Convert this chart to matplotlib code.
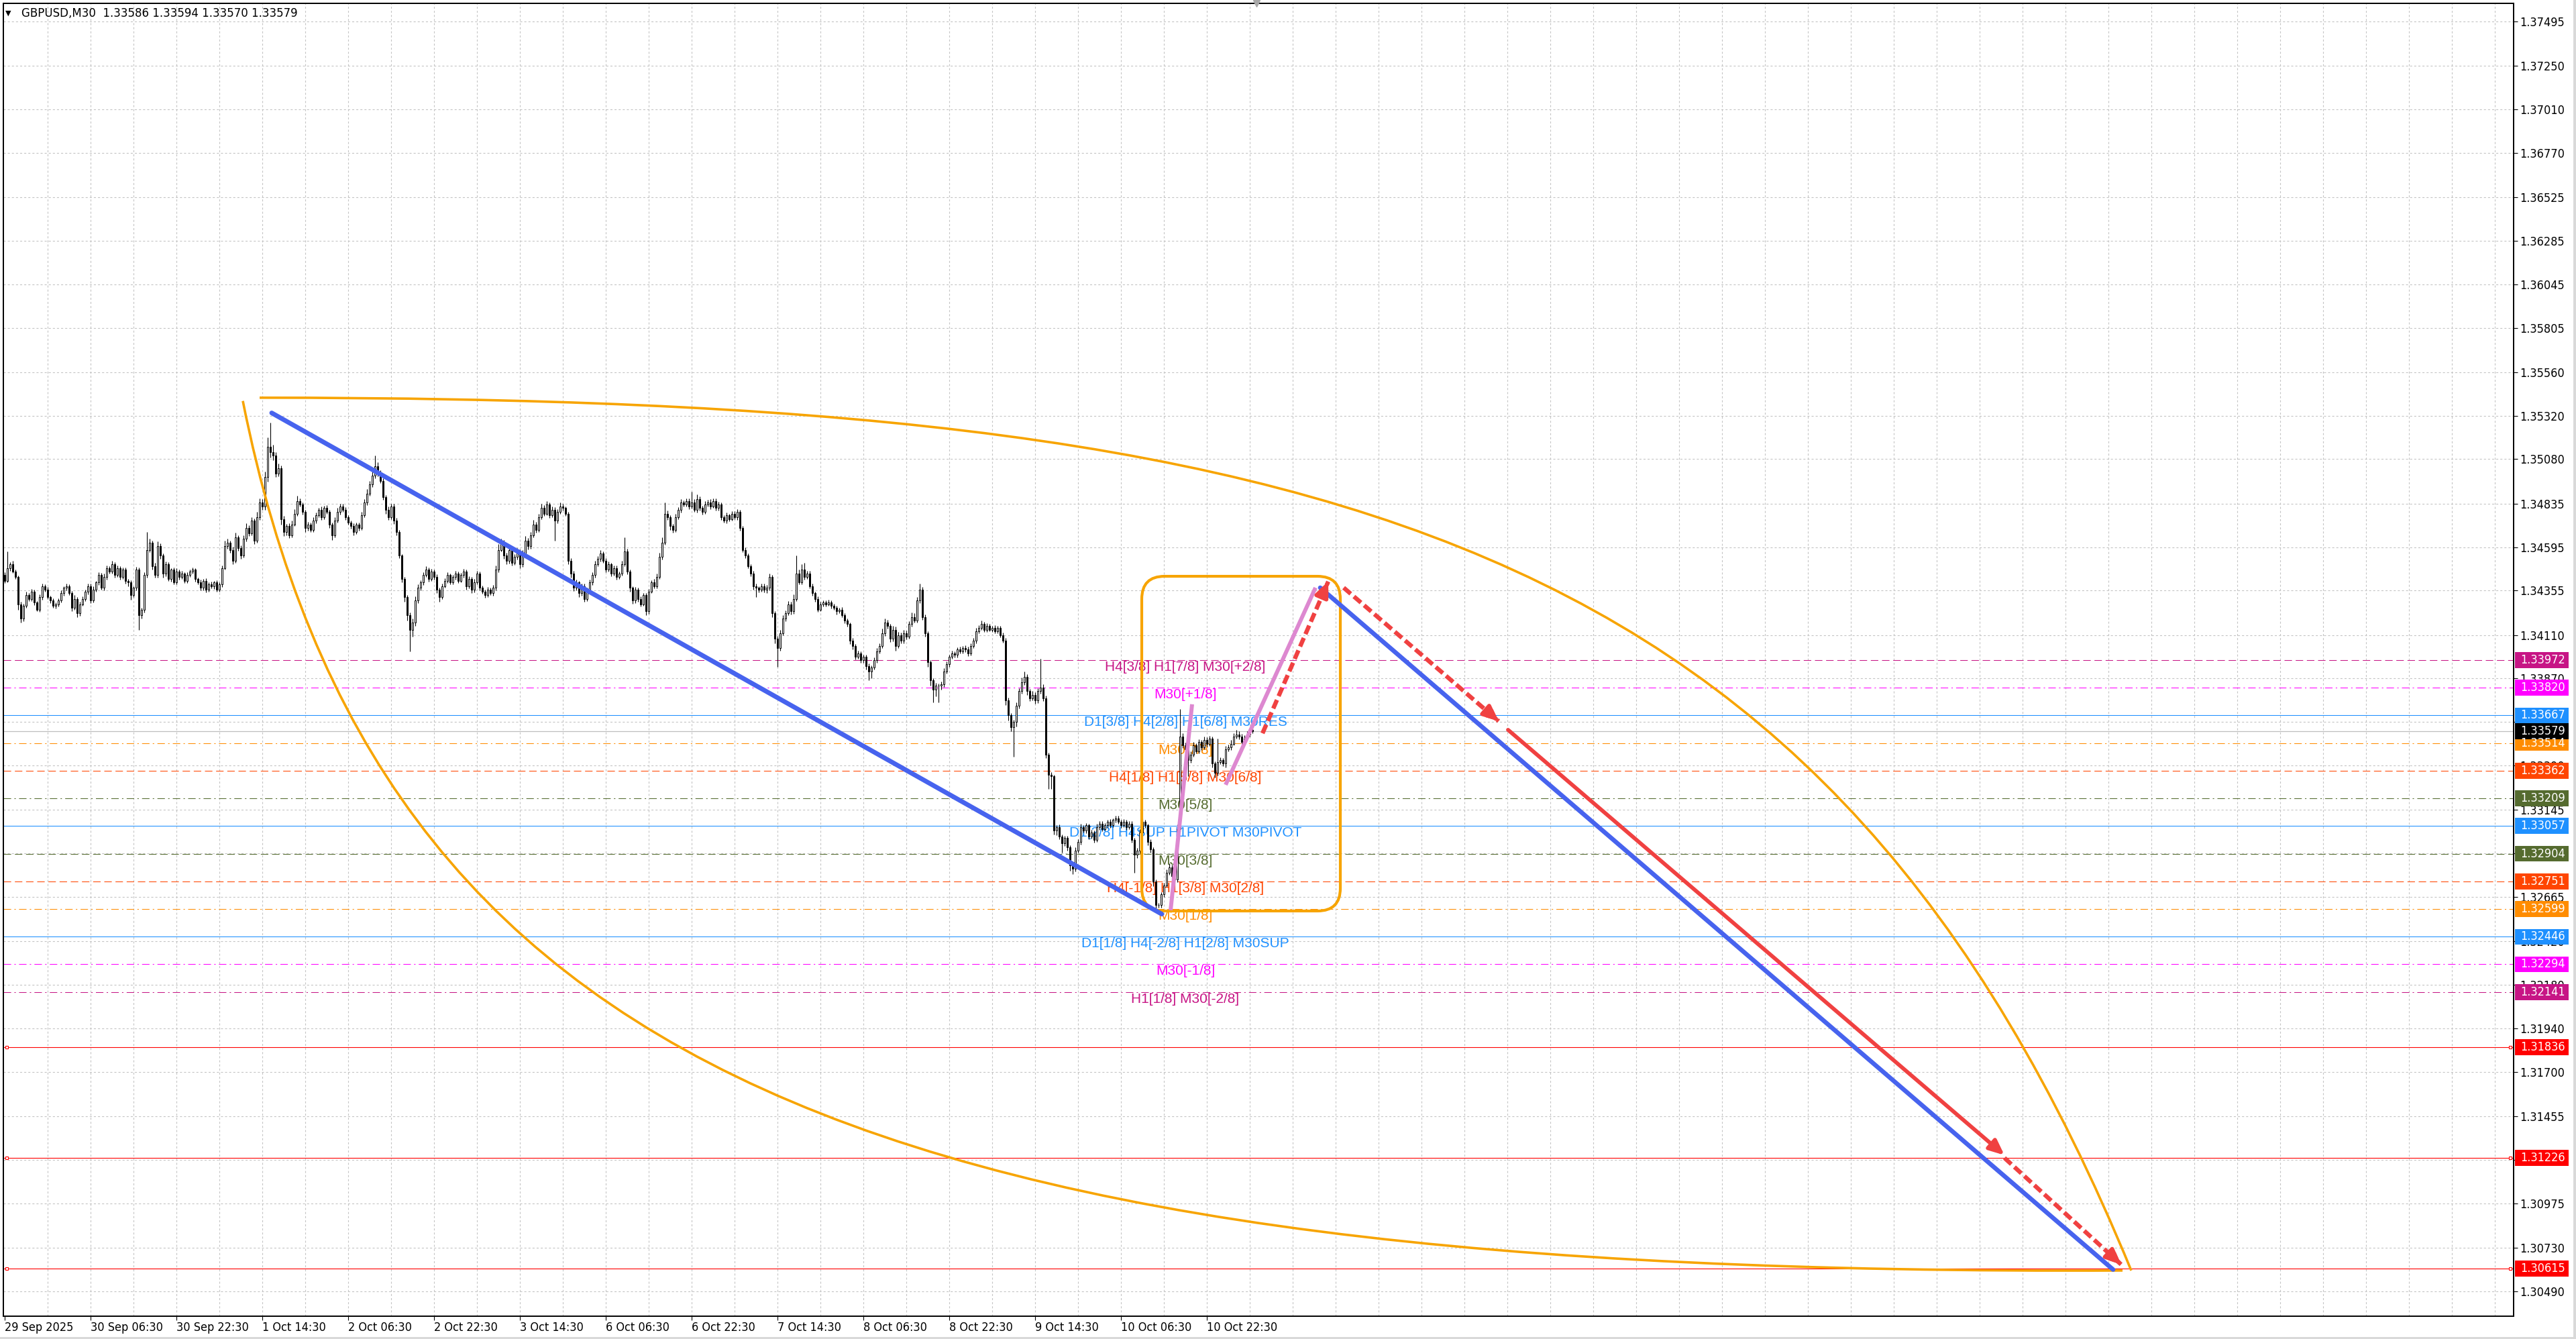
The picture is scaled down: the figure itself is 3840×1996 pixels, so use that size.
import numpy as np
import matplotlib
matplotlib.use('Agg')
import matplotlib.pyplot as plt
import matplotlib.transforms as mtransforms
from matplotlib import font_manager
from matplotlib.font_manager import FontProperties
from matplotlib.patches import FancyBboxPatch, Rectangle, PathPatch
from matplotlib.path import Path

plt.rcParams['lines.scale_dashes'] = False

# ---- candles (GBPUSD M30), close per bar, wicks in points (1e-5)
first_open = 1.3444
closes = [
    1.3441, 1.3448, 1.3450, 1.3446, 1.3443, 1.3428, 1.3420, 1.3427, 1.3433, 1.3431,   # 0
    1.3435, 1.3429, 1.3425, 1.3432, 1.3438, 1.3436, 1.3432, 1.3430, 1.3427, 1.3428,   # 10
    1.3430, 1.3434, 1.3437, 1.3438, 1.3434, 1.3426, 1.3431, 1.3423, 1.3428, 1.3431,   # 20
    1.3435, 1.3438, 1.3430, 1.3436, 1.3440, 1.3444, 1.3437, 1.3443, 1.3448, 1.3446,   # 30
    1.3450, 1.3444, 1.3448, 1.3443, 1.3447, 1.3441, 1.3440, 1.3433, 1.3437, 1.3447,   # 40
    1.3422, 1.3425, 1.3444, 1.3458, 1.3462, 1.3449, 1.3444, 1.3460, 1.3455, 1.3445,   # 50
    1.3450, 1.3442, 1.3447, 1.3440, 1.3446, 1.3443, 1.3445, 1.3441, 1.3444, 1.3446,   # 60
    1.3447, 1.3442, 1.3440, 1.3437, 1.3441, 1.3436, 1.3439, 1.3438, 1.3440, 1.3436,   # 70
    1.3439, 1.3448, 1.3460, 1.3462, 1.3458, 1.3452, 1.3465, 1.3459, 1.3455, 1.3464,   # 80
    1.3470, 1.3467, 1.3474, 1.3463, 1.3476, 1.3484, 1.3482, 1.3498, 1.3515, 1.3512,   # 90
    1.3510, 1.3500, 1.3503, 1.3475, 1.3468, 1.3471, 1.3466, 1.3472, 1.3478, 1.3485,   # 100
    1.3483, 1.3479, 1.3470, 1.3472, 1.3469, 1.3474, 1.3477, 1.3480, 1.3476, 1.3481,   # 110
    1.3479, 1.3472, 1.3466, 1.3474, 1.3479, 1.3482, 1.3480, 1.3476, 1.3473, 1.3471,   # 120
    1.3468, 1.3472, 1.3470, 1.3477, 1.3484, 1.3489, 1.3494, 1.3499, 1.3504, 1.3500,   # 130
    1.3496, 1.3487, 1.3480, 1.3476, 1.3482, 1.3474, 1.3468, 1.3455, 1.3442, 1.3432,   # 140
    1.3422, 1.3414, 1.3418, 1.3430, 1.3437, 1.3440, 1.3444, 1.3447, 1.3442, 1.3446,   # 150
    1.3443, 1.3436, 1.3432, 1.3438, 1.3441, 1.3444, 1.3440, 1.3443, 1.3445, 1.3441,   # 160
    1.3444, 1.3446, 1.3438, 1.3442, 1.3436, 1.3440, 1.3445, 1.3437, 1.3435, 1.3433,   # 170
    1.3436, 1.3434, 1.3437, 1.3447, 1.3458, 1.3462, 1.3455, 1.3452, 1.3458, 1.3451,   # 180
    1.3454, 1.3457, 1.3450, 1.3456, 1.3463, 1.3460, 1.3466, 1.3472, 1.3469, 1.3476,   # 190
    1.3481, 1.3478, 1.3483, 1.3477, 1.3480, 1.3474, 1.3479, 1.3482, 1.3481, 1.3478,   # 200
    1.3452, 1.3445, 1.3437, 1.3440, 1.3434, 1.3438, 1.3431, 1.3436, 1.3440, 1.3444,   # 210
    1.3450, 1.3453, 1.3456, 1.3452, 1.3447, 1.3450, 1.3445, 1.3448, 1.3443, 1.3445,   # 220
    1.3450, 1.3457, 1.3446, 1.3437, 1.3430, 1.3436, 1.3431, 1.3428, 1.3433, 1.3424,   # 230
    1.3435, 1.3440, 1.3438, 1.3443, 1.3454, 1.3462, 1.3478, 1.3476, 1.3471, 1.3469,   # 240
    1.3476, 1.3480, 1.3484, 1.3483, 1.3485, 1.3482, 1.3484, 1.3480, 1.3486, 1.3481,   # 250
    1.3479, 1.3483, 1.3484, 1.3482, 1.3485, 1.3481, 1.3483, 1.3476, 1.3474, 1.3477,   # 260
    1.3475, 1.3478, 1.3476, 1.3479, 1.3470, 1.3458, 1.3455, 1.3449, 1.3445, 1.3438,   # 270
    1.3437, 1.3436, 1.3438, 1.3436, 1.3437, 1.3443, 1.3423, 1.3409, 1.3404, 1.3412,   # 280
    1.3420, 1.3423, 1.3428, 1.3424, 1.3431, 1.3445, 1.3440, 1.3447, 1.3443, 1.3445,   # 290
    1.3438, 1.3434, 1.3431, 1.3425, 1.3428, 1.3429, 1.3428, 1.3429, 1.3427, 1.3426,   # 300
    1.3424, 1.3425, 1.3422, 1.3419, 1.3417, 1.3408, 1.3405, 1.3399, 1.3401, 1.3397,   # 310
    1.3399, 1.3394, 1.3391, 1.3393, 1.3397, 1.3402, 1.3405, 1.3412, 1.3418, 1.3416,   # 320
    1.3409, 1.3414, 1.3405, 1.3411, 1.3408, 1.3412, 1.3410, 1.3417, 1.3421, 1.3419,   # 330
    1.3430, 1.3436, 1.3421, 1.3412, 1.3396, 1.3386, 1.3381, 1.3383, 1.3383, 1.3384,   # 340
    1.3391, 1.3395, 1.3399, 1.3401, 1.3400, 1.3403, 1.3402, 1.3404, 1.3403, 1.3401,   # 350
    1.3405, 1.3408, 1.3413, 1.3415, 1.3417, 1.3414, 1.3416, 1.3414, 1.3415, 1.3413,   # 360
    1.3415, 1.3411, 1.3408, 1.3375, 1.3367, 1.3360, 1.3363, 1.3372, 1.3380, 1.3385,   # 370
    1.3388, 1.3380, 1.3376, 1.3378, 1.3375, 1.3380, 1.3382, 1.3376, 1.3345, 1.3334,   # 380
    1.3333, 1.3303, 1.3305, 1.3300, 1.3296, 1.3299, 1.3294, 1.3284, 1.3282, 1.3292,   # 390
    1.3297, 1.3305, 1.3303, 1.3306, 1.3300, 1.3302, 1.3298, 1.3305, 1.3307, 1.3304,   # 400
    1.3306, 1.3308, 1.3306, 1.3309, 1.3310, 1.3308, 1.3306, 1.3308, 1.3305, 1.3307,   # 410
    1.3298, 1.3290, 1.3292, 1.3302, 1.3308, 1.3306, 1.3297, 1.3293, 1.3275, 1.3262,   # 420
    1.3262, 1.3268, 1.3273, 1.3280, 1.3283, 1.3278, 1.3276, 1.3304, 1.3355, 1.3350,   # 430
    1.3348, 1.3342, 1.3345, 1.3350, 1.3347, 1.3352, 1.3349, 1.3353, 1.3351, 1.3354,   # 440
    1.3340, 1.3335, 1.3341, 1.3342, 1.3340, 1.3348, 1.3349, 1.3351, 1.3355, 1.3356,   # 450
    1.3355, 1.3352, 1.3354, 1.3356, 1.33586, 1.33579,                                 # 460
]
wick_up = [
    15, 90, 12, 20, 10, 8, 15, 12, 18, 10,
    14, 10, 8, 16, 12, 10, 15, 8, 12, 10,
    12, 18, 10, 14, 8, 12, 20, 10, 15, 12,
    10, 14, 12, 18, 10, 15, 12, 20, 14, 10,
    18, 12, 15, 10, 14, 12, 8, 12, 10, 16,
    12, 10, 15, 100, 20, 12, 18, 25, 14, 10,
    15, 12, 10, 14, 18, 10, 12, 8, 15, 10,
    12, 10, 8, 14, 10, 12, 10, 15, 8, 12,
    10, 15, 30, 20, 12, 18, 25, 10, 15, 20,
    25, 15, 20, 12, 30, 25, 20, 30, 50, 130,
    40, 20, 25, 15, 18, 12, 15, 20, 25, 30,
    15, 12, 10, 14, 12, 18, 15, 12, 20, 14,
    15, 12, 10, 18, 20, 15, 12, 14, 10, 12,
    15, 10, 12, 20, 18, 25, 20, 30, 60, 25,
    20, 15, 12, 18, 14, 12, 15, 10, 8, 12,
    10, 15, 20, 25, 18, 12, 15, 20, 12, 14,
    12, 15, 10, 14, 12, 15, 10, 12, 14, 10,
    12, 15, 10, 14, 12, 18, 15, 10, 12, 10,
    14, 12, 15, 25, 30, 20, 15, 12, 18, 14,
    15, 20, 12, 18, 25, 15, 20, 25, 15, 20,
    25, 15, 20, 12, 18, 15, 14, 20, 12, 10,
    10, 15, 12, 14, 10, 12, 15, 10, 14, 15,
    20, 15, 18, 12, 15, 14, 10, 12, 15, 10,
    20, 80, 15, 12, 10, 14, 12, 15, 10, 12,
    15, 12, 18, 20, 25, 30, 60, 15, 12, 14,
    20, 15, 18, 12, 15, 14, 60, 20, 25, 15,
    12, 18, 15, 20, 15, 12, 14, 10, 12, 15,
    10, 14, 12, 15, 10, 12, 14, 10, 12, 15,
    12, 10, 14, 12, 15, 20, 10, 12, 15, 18,
    20, 15, 18, 14, 25, 100, 20, 30, 40, 15,
    12, 14, 10, 12, 15, 10, 12, 14, 10, 12,
    10, 12, 14, 10, 12, 10, 14, 12, 15, 10,
    12, 10, 14, 12, 18, 20, 15, 25, 20, 15,
    12, 20, 15, 18, 12, 20, 15, 18, 25, 20,
    20, 35, 15, 12, 10, 12, 10, 14, 12, 15,
    18, 15, 12, 14, 10, 12, 14, 10, 12, 15,
    14, 12, 18, 15, 20, 12, 14, 10, 12, 14,
    12, 10, 14, 12, 15, 10, 12, 20, 18, 25,
    30, 15, 12, 20, 14, 18, 160, 20, 15, 12,
    14, 10, 12, 15, 10, 14, 12, 10, 12, 18,
    15, 20, 12, 14, 10, 15, 12, 18, 14, 12,
    14, 12, 15, 10, 14, 12, 10, 14, 12, 15,
    12, 10, 14, 20, 18, 12, 10, 12, 10, 12,
    14, 12, 15, 18, 20, 12, 14, 25, 150, 20,
    15, 12, 18, 20, 14, 15, 12, 20, 15, 12,
    10, 12, 130, 14, 12, 18, 15, 20, 18, 25,
    20, 15, 18, 20, 12, 8,
]
wick_dn = [
    12, 10, 15, 8, 12, 30, 20, 15, 10, 14,
    12, 15, 10, 12, 14, 10, 12, 15, 10, 12,
    14, 10, 12, 15, 10, 18, 12, 20, 15, 10,
    12, 14, 15, 10, 12, 14, 10, 12, 15, 10,
    12, 15, 10, 14, 12, 15, 20, 25, 12, 15,
    80, 20, 15, 12, 14, 18, 12, 15, 20, 25,
    15, 12, 14, 10, 12, 15, 10, 14, 12, 10,
    12, 14, 10, 15, 12, 14, 10, 12, 15, 10,
    12, 15, 10, 14, 18, 20, 12, 15, 20, 14,
    12, 15, 10, 20, 12, 15, 18, 20, 25, 30,
    25, 20, 15, 30, 25, 20, 15, 12, 10, 14,
    12, 15, 20, 14, 12, 10, 15, 12, 14, 10,
    12, 20, 25, 12, 10, 14, 12, 15, 10, 14,
    20, 12, 15, 10, 12, 14, 10, 12, 15, 14,
    12, 15, 20, 14, 12, 18, 20, 15, 20, 25,
    30, 120, 40, 20, 15, 12, 14, 10, 15, 12,
    14, 20, 25, 12, 10, 14, 12, 10, 14, 12,
    10, 14, 18, 12, 20, 14, 10, 15, 12, 14,
    12, 10, 14, 12, 15, 10, 18, 20, 14, 15,
    12, 14, 20, 15, 12, 18, 14, 12, 15, 10,
    12, 14, 10, 15, 12, 110, 12, 10, 14, 12,
    20, 25, 18, 15, 20, 14, 15, 12, 10, 14,
    12, 10, 14, 12, 15, 10, 14, 12, 15, 10,
    12, 10, 15, 20, 18, 14, 15, 12, 10, 20,
    12, 10, 14, 12, 10, 15, 12, 14, 20, 15,
    12, 10, 14, 12, 10, 14, 12, 10, 14, 12,
    15, 10, 12, 14, 10, 15, 12, 14, 10, 12,
    14, 10, 12, 15, 14, 12, 15, 10, 14, 20,
    50, 15, 12, 14, 20, 12, 20, 25, 105, 15,
    12, 14, 10, 15, 12, 14, 12, 10, 15, 12,
    14, 12, 15, 12, 10, 14, 12, 10, 14, 12,
    15, 10, 12, 14, 15, 20, 18, 15, 12, 14,
    15, 20, 50, 40, 12, 14, 10, 12, 15, 14,
    20, 15, 25, 12, 15, 14, 12, 10, 14, 12,
    12, 14, 15, 20, 25, 30, 70, 40, 90, 20,
    15, 12, 14, 10, 12, 14, 10, 12, 14, 15,
    12, 10, 14, 12, 10, 14, 12, 10, 14, 12,
    10, 14, 12, 25, 30, 20, 160, 25, 15, 12,
    14, 20, 15, 12, 18, 14, 12, 15, 20, 80,
    70, 20, 25, 15, 50, 12, 20, 30, 30, 14,
    12, 15, 10, 14, 18, 12, 15, 10, 14, 12,
    10, 14, 12, 10, 14, 12, 15, 10, 14, 12,
    15, 100, 20, 14, 12, 15, 18, 20, 25, 20,
    15, 12, 14, 10, 12, 15, 14, 12, 15, 14,
    20, 90, 15, 12, 14, 12, 15, 10, 14, 12,
    20, 25, 15, 12, 14, 20, 12, 14, 10, 12,
    14, 12, 10, 14, 12, 9,
]

# ---- axes
price_ticks = [1.37495, 1.37250, 1.37010, 1.36770, 1.36525, 1.36285, 1.36045, 1.35805,
               1.35560, 1.35320, 1.35080, 1.34835, 1.34595, 1.34355, 1.34110, 1.33870,
               1.33630, 1.33390, 1.33145, 1.32905, 1.32665, 1.32420, 1.32180, 1.31940,
               1.31700, 1.31455, 1.31215, 1.30975, 1.30730, 1.30490]
date_labels = ['29 Sep 2025', '30 Sep 06:30', '30 Sep 22:30', '1 Oct 14:30', '2 Oct 06:30',
               '2 Oct 22:30', '3 Oct 14:30', '6 Oct 06:30', '6 Oct 22:30', '7 Oct 14:30',
               '8 Oct 06:30', '8 Oct 22:30', '9 Oct 14:30', '10 Oct 06:30', '10 Oct 22:30']
bars_per_label = 32
bars_per_grid = 16

# ---- murrey levels
level_prices = [1.33972, 1.33820, 1.33667, 1.33514, 1.33362, 1.33209, 1.33057,
                1.32904, 1.32751, 1.32599, 1.32446, 1.32294, 1.32141]
level_colors = ['#C71585', '#FF00FF', '#1E90FF', '#FF8C00', '#FF4500', '#556B2F', '#1E90FF',
                '#556B2F', '#FF4500', '#FF8C00', '#1E90FF', '#FF00FF', '#C71585']
level_styles = ['dash', 'dashdot', 'solid', 'dashdot', 'dash', 'dashdot', 'solid',
                'dash', 'dash', 'dashdot', 'solid', 'dashdot', 'dashdot']
level_texts = ['H4[3/8] H1[7/8] M30[+2/8]', 'M30[+1/8]', 'D1[3/8] H4[2/8] H1[6/8] M30RES',
               'M30[7/8]', 'H4[1/8] H1[5/8] M30[6/8]', 'M30[5/8]',
               'D1[2/8] H4SUP H1PIVOT M30PIVOT', 'M30[3/8]', 'H4[-1/8] H1[3/8] M30[2/8]',
               'M30[1/8]', 'D1[1/8] H4[-2/8] H1[2/8] M30SUP', 'M30[-1/8]', 'H1[1/8] M30[-2/8]']
text_bar = 440
target_prices = [1.31836, 1.31226, 1.30615]
bid_price = 1.33579
header = 'GBPUSD,M30  1.33586 1.33594 1.33570 1.33579'

# ---- drawn objects (bar index, price)
blue_lines = [[(99.5, 1.35335), (431.2, 1.32571)], [(490.25, 1.34371), (785.75, 1.30610)]]
blue_widths = [5.0, 4.8]
pink_lines = [[(434.5, 1.32592), (442.5, 1.33728)], [(455.0, 1.33284), (488.5, 1.34371)]]
red_arrows = [[(468.75, 1.33568), (493.25, 1.34405)], [(499.0, 1.34371), (556.75, 1.33635)],
              [(560.25, 1.33587), (745.25, 1.31241)], [(745.25, 1.31226), (788.75, 1.30638)]]
red_dashed = [True, True, False, True]
box_corners = [(423.75, 1.32588), (497.75, 1.34434)]
arc_top = [(95.0, 1.35419), (498.25, 1.35419), (680.0, 1.34653), (792.5, 1.30605)]
arc_bottom = [(88.75, 1.35401), (138.75, 1.31700), (323.25, 1.30572), (789.25, 1.30605)]

ORANGE = '#F7A400'
RED = '#F04141'
BLUE = '#4763EE'
PINK = '#DD88D0'
GRID = '#C4C4C4'

# fonts: MT4 axis font is tall and narrow
names = {f.name for f in font_manager.fontManager.ttflist}
cond = any(f.name == 'DejaVu Sans' and str(f.stretch) == 'condensed'
           for f in font_manager.fontManager.ttflist)
if 'Liberation Sans Narrow' in names:
    axis_fp = FontProperties(family='Liberation Sans Narrow', size=15)
elif cond:
    axis_fp = FontProperties(family='DejaVu Sans', stretch='condensed', size=13)
else:
    axis_fp = FontProperties(family='DejaVu Sans', size=11)

W, H = 3840, 1996
fig = plt.figure(figsize=(W / 100, H / 100), dpi=100)
ax = fig.add_axes([5 / W, 34 / H, 3742 / W, 1957 / H])
ax.set_xlim(-0.5, 935)
ax.set_ylim(1.30353, 1.37594)
for s in ax.spines.values():
    s.set_linewidth(1.4)

# price axis
ax.yaxis.tick_right()
ax.set_yticks(price_ticks)
ax.set_yticklabels(['%.5f' % p for p in price_ticks], fontproperties=axis_fp)
ax.tick_params(axis='y', direction='out', length=4.3, width=0.8, pad=2.5)
ax.grid(axis='y', color=GRID, linestyle=(0, (2.2, 2.2)), linewidth=0.8)

# time axis
ax.set_xticks(np.arange(len(date_labels)) * bars_per_label)
ax.set_xticklabels(date_labels, fontproperties=axis_fp, ha='left')
ax.tick_params(axis='x', direction='out', length=4.3, width=0.8, pad=1.5)
ax.set_xticks(np.arange(bars_per_grid, 935, bars_per_grid), minor=True)
ax.xaxis.remove_overlapping_locs = False
ax.tick_params(axis='x', which='minor', length=0)
ax.grid(axis='x', which='minor', color=GRID, linestyle=(0, (2.2, 2.2)), linewidth=0.8)
ax.set_axisbelow(True)

# candles
n = min(len(closes), len(wick_up), len(wick_dn))
c = np.array(closes[:n])
o = np.r_[first_open, c[:-1]]
hi = np.maximum(o, c) + np.array(wick_up[:n]) * 1e-5
lo = np.minimum(o, c) - np.array(wick_dn[:n]) * 1e-5
x = np.arange(n)
ax.vlines(x, lo, hi, color='black', linewidth=0.8, zorder=3)
bull = c >= o
ax.bar(x[bull], (c - o)[bull], bottom=o[bull], width=0.62, facecolor='white',
       edgecolor='black', linewidth=0.7, zorder=3.1)
ax.bar(x[~bull], (o - c)[~bull], bottom=c[~bull], width=0.62, facecolor='black',
       edgecolor='black', linewidth=0.7, zorder=3.1)

# level lines + labels
styles = {'dash': (0, (8, 4)), 'dashdot': (0, (8, 3.5, 1.5, 3.5)), 'solid': '-'}
for p, col, st, txt in zip(level_prices, level_colors, level_styles, level_texts):
    ax.axhline(p, color=col, linestyle=styles[st], linewidth=0.75, zorder=1.5)
    ax.text(text_bar, p - 0.00004, txt, color=col, ha='center', va='top',
            family='Liberation Sans', fontsize=15, zorder=2.5)
ax.axhline(bid_price, color='#BDBDBD', linewidth=0.9, zorder=1.5)
for p in target_prices:
    ax.axhline(p, color='#FF0000', linewidth=0.8, zorder=1.5)
    ax.plot([0.8, 933.8], [p, p], linestyle='none', marker='s', ms=3.3, mfc='white',
            mec='#FF0000', mew=0.8, zorder=1.6)

# right side price boxes
tb = mtransforms.blended_transform_factory(ax.transAxes, ax.transData)
box_h = 23.5 * 3.7e-5
box_prices = level_prices + [bid_price] + target_prices
box_colors = level_colors + ['#000000'] + ['#FF0000'] * len(target_prices)
for p, col in zip(box_prices, box_colors):
    ax.add_patch(Rectangle((1.00053, p - box_h / 2), 0.02138, box_h, transform=tb,
                           facecolor=col, edgecolor='none', clip_on=False, zorder=10))
    ax.text(1.00267, p, '%.5f' % p, transform=tb, color='white', ha='left', va='center',
            fontproperties=axis_fp, clip_on=False, zorder=11)

# orange curves
for pts in (arc_top, arc_bottom):
    path = Path(pts, [Path.MOVETO, Path.CURVE4, Path.CURVE4, Path.CURVE4])
    ax.add_patch(PathPatch(path, fill=False, edgecolor=ORANGE, linewidth=2.6, zorder=4))

# orange rounded box
(bx0, by0), (bx1, by1) = box_corners
ax.add_patch(FancyBboxPatch((bx0, by0), bx1 - bx0, by1 - by0,
                            boxstyle='round,pad=0,rounding_size=8.5',
                            mutation_aspect=1.48e-4, fill=False,
                            edgecolor=ORANGE, linewidth=3.0, zorder=4))

# trend lines
for seg, lw in zip(blue_lines, blue_widths):
    (x0, y0), (x1, y1) = seg
    ax.plot([x0, x1], [y0, y1], color=BLUE, linewidth=lw, solid_capstyle='round', zorder=5)
for seg in pink_lines:
    (x0, y0), (x1, y1) = seg
    ax.plot([x0, x1], [y0, y1], color=PINK, linewidth=4.3, solid_capstyle='butt', zorder=5)
for seg, dashed in zip(red_arrows, red_dashed):
    (x0, y0), (x1, y1) = seg
    if dashed:
        ax.plot([x0, x1], [y0, y1], color=RED, linewidth=4.6, linestyle=(0, (10, 4.5)),
                dash_capstyle='butt', zorder=6)
    ax.annotate('', xy=(x1, y1), xytext=(x0, y0),
                arrowprops=dict(arrowstyle='-|>,head_length=0.95,head_width=0.42',
                                color=RED, linewidth=0 if dashed else 4.2,
                                mutation_scale=14, shrinkA=0, shrinkB=0), zorder=6)
    if dashed:
        # head only: redraw a short solid arrow at the tip
        ax.annotate('', xy=(x1, y1), xytext=(x1 - (x1 - x0) * 0.02, y1 - (y1 - y0) * 0.02),
                    arrowprops=dict(arrowstyle='-|>,head_length=0.95,head_width=0.42',
                                    color=RED, linewidth=4.2, mutation_scale=14,
                                    shrinkA=0, shrinkB=0), zorder=6)

# chart shift marker
ax.plot([466.5], [1.37594], marker='v', ms=7, color='#A8A8A8', clip_on=False, zorder=12)

# header
fig.text(8 / W, 1 - 20 / H, '\u25BC', fontsize=8, va='center', ha='left', color='black')
fig.text(32 / W, 1 - 20 / H, header, fontsize=12, va='center', ha='left',
         family='DejaVu Sans', color='black')

# window edges
fig.patches.append(Rectangle((0, 0), 1, 3 / H, transform=fig.transFigure,
                             facecolor='#D9D9D9', edgecolor='none'))
fig.patches.append(Rectangle((1 - 4 / W, 0), 4 / W, 1, transform=fig.transFigure,
                             facecolor='#D9D9D9', edgecolor='none'))

fig.savefig('out.png', dpi=100)
